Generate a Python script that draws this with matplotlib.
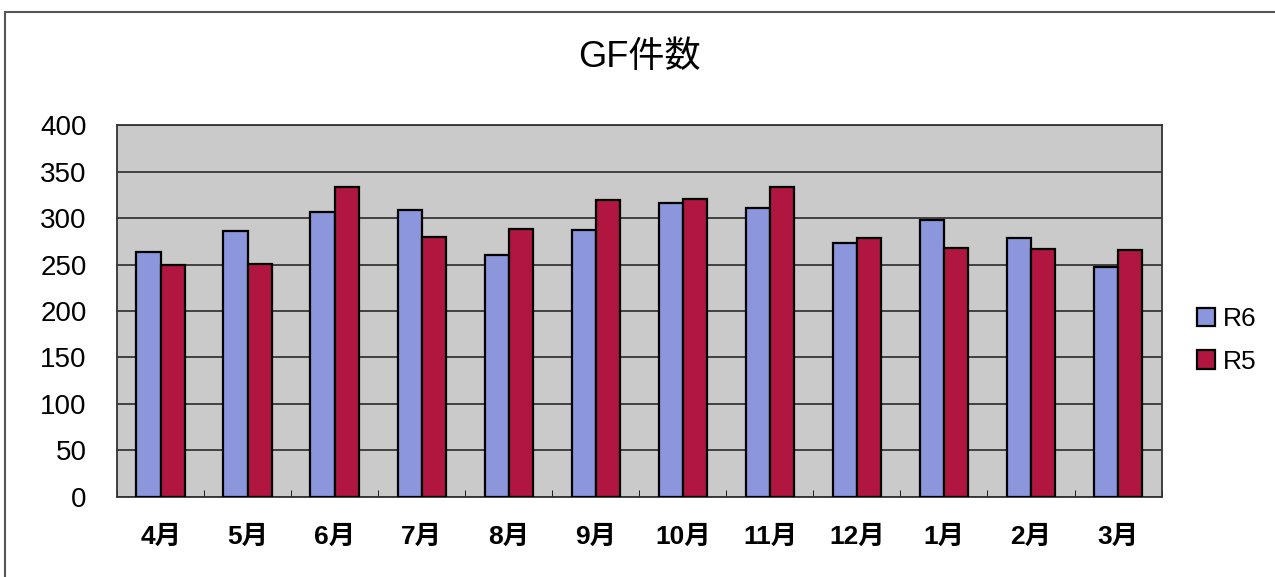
import numpy as np
import matplotlib
matplotlib.use('Agg')
import matplotlib.pyplot as plt
from matplotlib.patches import Rectangle

plt.rcParams['font.family'] = ['Liberation Sans', 'Noto Sans CJK JP', 'DejaVu Sans']

months = ['4月', '5月', '6月', '7月', '8月', '9月', '10月', '11月', '12月', '1月', '2月', '3月']
r6 = [264, 286, 307, 309, 260, 287, 316, 311, 273, 298, 279, 247]
r5 = [249, 251, 334, 280, 288, 320, 321, 334, 279, 268, 267, 266]
yticks = [0, 50, 100, 150, 200, 250, 300, 350, 400]

fig = plt.figure(figsize=(12.75, 5.77), dpi=100)
ax = fig.add_axes([0.092, 0.139, 0.819, 0.644])

x = np.arange(len(months))
w = 0.28
ax.set_facecolor('#c9cac9')
ax.set_axisbelow(True)
ax.grid(axis='y', color='#2a2a2a', lw=1.2)
ax.bar(x - w/2, r6, w, color='#8c96dc', edgecolor='black', lw=1.6, label='R6', zorder=3)
ax.bar(x + w/2, r5, w, color='#b0163f', edgecolor='black', lw=1.6, label='R5', zorder=3)

ax.set_xlim(-0.5, len(months) - 0.5)
ax.set_ylim(0, 400)
ax.set_yticks(yticks)
ax.tick_params(axis='y', labelsize=20, length=0, pad=22)
ax.set_xticks(x)
ax.set_xticklabels(months, fontsize=19, fontweight='bold')
ax.tick_params(axis='x', length=0, pad=20)
ax.set_xticks(np.arange(len(months) + 1) - 0.5, minor=True)
ax.tick_params(axis='x', which='minor', direction='in', length=5, color='black')
for s in ax.spines.values():
    s.set_color('#333333')
    s.set_linewidth(1.3)

ax.set_title('GF件数', fontsize=26, pad=42)

fig.legend(loc='center left', bbox_to_anchor=(0.92, 0.41), frameon=False,
           fontsize=19, handlelength=0.7, handleheight=0.7, handletextpad=0.3,
           labelspacing=0.7)

fig.patches.append(Rectangle((0.004, -0.1), 1.2, 1.08, transform=fig.transFigure,
                             fill=False, edgecolor='#555555', lw=1.5))

fig.savefig('out.png', dpi=100)
